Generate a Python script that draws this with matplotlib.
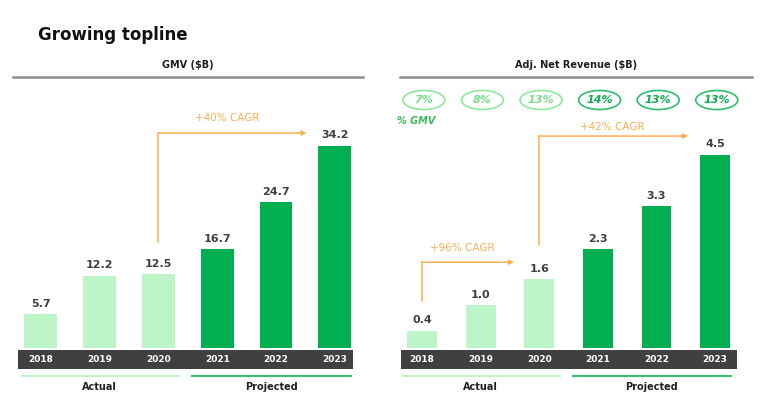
import matplotlib
matplotlib.use("Agg")
import matplotlib.pyplot as plt
from matplotlib.patches import Rectangle, Ellipse
from matplotlib.transforms import blended_transform_factory

# Data
years = ["2018", "2019", "2020", "2021", "2022", "2023"]
gmv = [5.7, 12.2, 12.5, 16.7, 24.7, 34.2]
net_revenue = [0.4, 1.0, 1.6, 2.3, 3.3, 4.5]
pct_gmv = [7, 8, 13, 14, 13, 13]
n_actual = 3  # 2018-2020 actual, rest projected

LIGHT = "#BEF5C8"
DARK = "#00B050"
BAND = "#404040"
ORANGE = "#FCAE55"
TXT = "#404040"

W, H = 770, 398
fig = plt.figure(figsize=(W / 100, H / 100), dpi=100)
plt.rcParams["font.family"] = ["DejaVu Sans"]


def fx(px):
    return px / W


def fy(py):
    return 1 - py / H


def panel(left_px, right_px, values, scale_top, bar_width, title, header_x):
    ax = fig.add_axes([fx(left_px), fy(348), fx(right_px - left_px), fy(80) - fy(348)])
    x = list(range(len(values)))
    colors = [LIGHT if i < n_actual else DARK for i in x]
    ax.bar(x, values, width=bar_width, color=colors)
    ax.set_ylim(0, scale_top)
    ax.axis("off")
    for i, v in enumerate(values):
        ax.annotate(f"{v:.1f}", (i, v), xytext=(0, 4), textcoords="offset points",
                    ha="center", va="bottom", fontsize=8, fontweight="bold", color=TXT)

    # dark year band (behind the axes so the year labels stay visible)
    fig.add_artist(Rectangle((fx(left_px), fy(369)), fx(right_px - left_px), fy(350) - fy(369),
                             transform=fig.transFigure, color=BAND, lw=0, zorder=-1))
    tr = blended_transform_factory(ax.transData, fig.transFigure)
    for i, yr in enumerate(years):
        ax.text(i, fy(359.5), yr, transform=tr, ha="center", va="center",
                fontsize=6.5, fontweight="bold", color="white", clip_on=False)

    # Actual / Projected underlines
    ax.plot([-0.33, 2.35], [fy(376)] * 2, transform=tr, color="#BEF5C8", lw=1.5, clip_on=False)
    ax.plot([2.57, 5.27], [fy(376)] * 2, transform=tr, color="#3CC46C", lw=1.5, clip_on=False)
    ax.text(1.0, fy(387), "Actual", transform=tr, ha="center", va="center",
            fontsize=7, fontweight="bold", color="#202020")
    ax.text(3.92, fy(387), "Projected", transform=tr, ha="center", va="center",
            fontsize=7, fontweight="bold", color="#202020")

    # header
    fig.add_artist(plt.Line2D([fx(header_x[0]), fx(header_x[1])], [fy(76.5)] * 2,
                              transform=fig.transFigure, color="#8C8C8C", lw=1.8))
    fig.text(fx((header_x[0] + header_x[1]) / 2), fy(65), title, ha="center", va="center",
             fontsize=7, fontweight="bold", color="#202020")
    return ax, tr


def cagr(ax, x0, y0, y1, x1, label, label_x, label_y):
    ax.plot([x0, x0], [y0, y1], color=ORANGE, lw=1.1, clip_on=False)
    ax.annotate("", xy=(x1, y1), xytext=(x0, y1),
                arrowprops=dict(arrowstyle="-|>", color=ORANGE, lw=1.1,
                                mutation_scale=7, shrinkA=0, shrinkB=0),
                annotation_clip=False)
    ax.text(label_x, label_y, label, ha="center", va="center", fontsize=7.5,
            color=ORANGE, clip_on=False)


fig.text(fx(38), fy(35), "Growing topline", ha="left", va="center",
         fontsize=12, fontweight="bold", color="#111111")

# Left panel: GMV
axl, trl = panel(18, 353, gmv, 268 / 5.906, 0.56, "GMV ($B)", (13, 363))
axl.set_xlim(-0.39, 5.31)
cagr(axl, 2, gmv[2] + 5.4, gmv[2] + 23.9, 4.52, "+40% CAGR", 3.17, gmv[2] + 26.4)

# Right panel: Adj. Net Revenue
axr, trr = panel(401, 737, net_revenue, 268 / 42.9, 0.51, "Adj. Net Revenue ($B)", (400, 752))
axr.set_xlim(-0.36, 5.375)
cagr(axr, 0, net_revenue[0] + 0.7, net_revenue[0] + 1.6, 1.57, "+96% CAGR", 0.68, net_revenue[0] + 1.93)
cagr(axr, 2, net_revenue[2] + 0.8, net_revenue[2] + 3.34, 4.54, "+42% CAGR", 3.24, net_revenue[2] + 3.55)

# % of GMV ellipses
for i, p in enumerate(pct_gmv):
    edge = "#8EE8A0" if i < n_actual else "#2DBE6C"
    tcol = "#7ADB8E" if i < n_actual else "#14AA52"
    axr.add_patch(Ellipse((i + 0.03, fy(100)), 42 / 58.6, 19 / H, transform=trr,
                          fill=False, edgecolor=edge, lw=1.2, clip_on=False))
    axr.text(i + 0.03, fy(100), f"{p}%", transform=trr, ha="center", va="center",
             fontsize=8, fontweight="bold", fontstyle="italic", color=tcol, clip_on=False)
fig.text(fx(397), fy(121), "% GMV", ha="left", va="center", fontsize=7,
         fontweight="bold", fontstyle="italic", color="#3CB95C")

fig.savefig("out.png", dpi=100)
